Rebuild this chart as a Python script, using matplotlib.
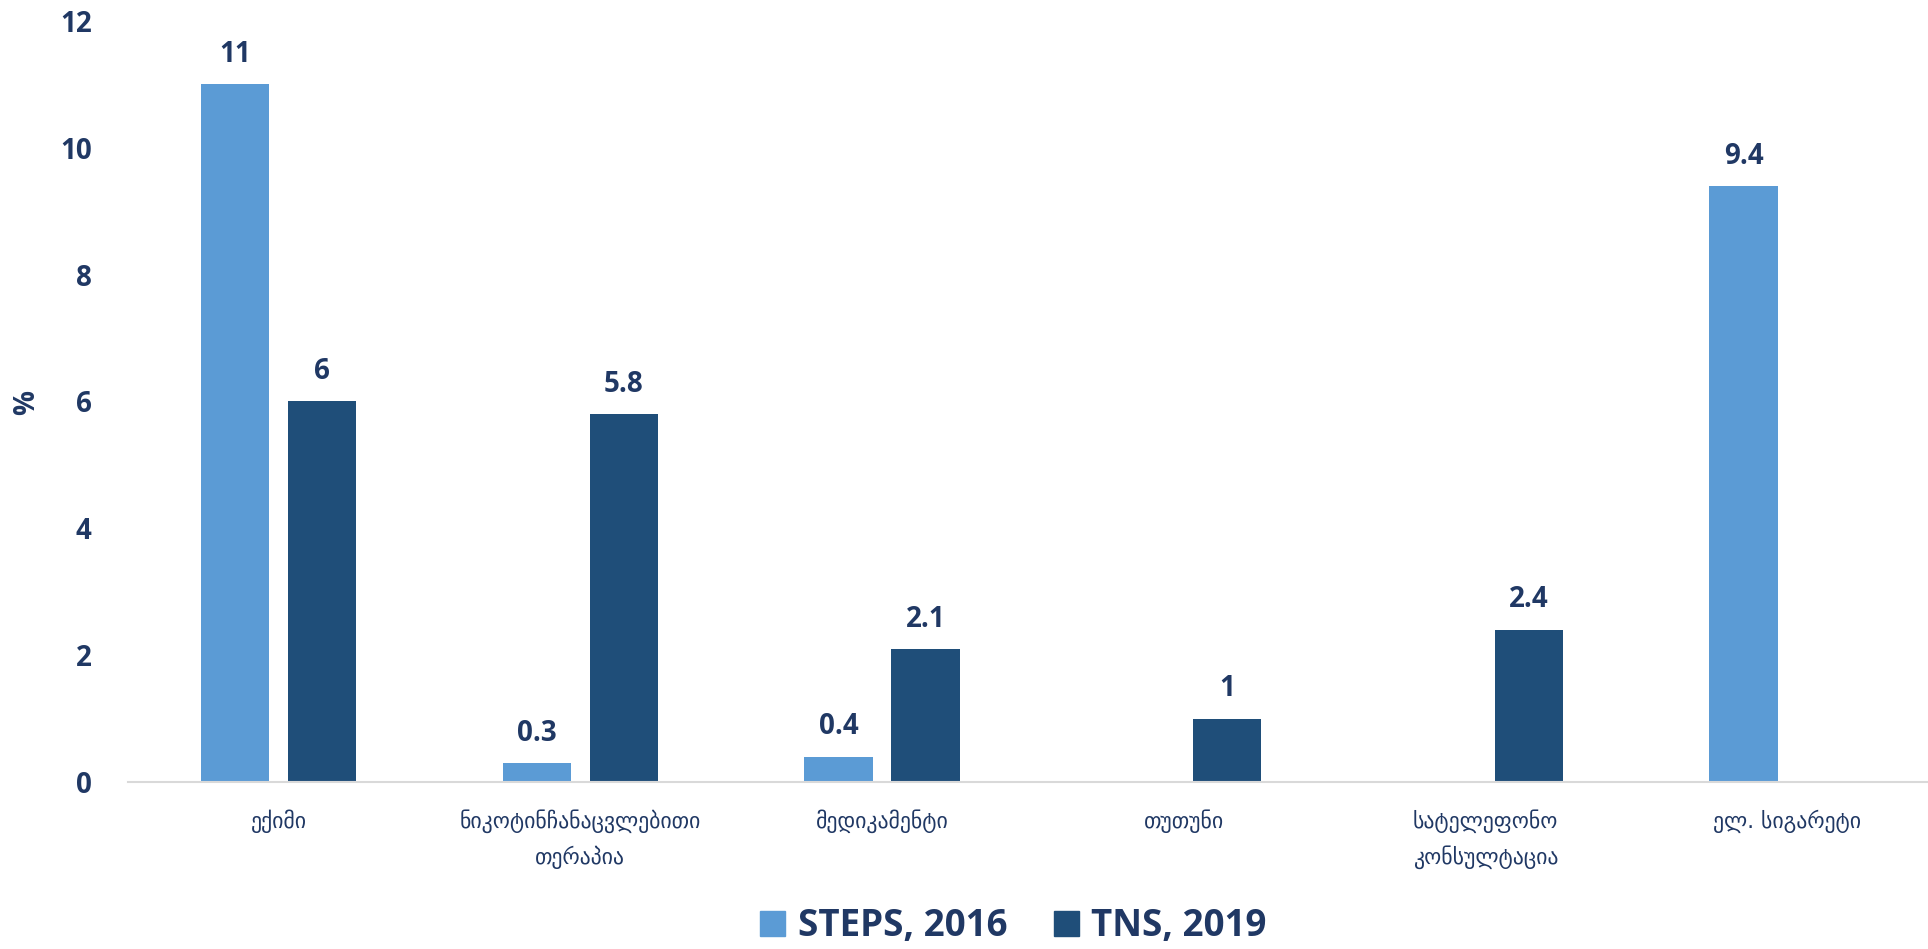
import matplotlib
matplotlib.use("Agg")
import matplotlib.pyplot as plt
from matplotlib.patches import Patch
import numpy as np

categories = ["ექიმი", "ნიკოტინჩანაცვლებითი\nთერაპია", "მედიკამენტი",
              "თუთუნი", "სატელეფონო\nკონსულტაცია", "ელ. სიგარეტი"]
series_names = ["STEPS, 2016", "TNS, 2019"]
steps_2016 = [11, 0.3, 0.4, np.nan, np.nan, 9.4]
tns_2019 = [6, 5.8, 2.1, 1, 2.4, np.nan]
y_ticks = [0, 2, 4, 6, 8, 10, 12]

light = "#5B9BD5"
dark = "#1F4E79"
txt = "#203864"
bold_font = ["Open Sans", "DejaVu Sans"]

fig = plt.figure(figsize=(19.28, 9.49), dpi=100)
ax = fig.add_axes([0.0663, 0.176, 0.9388, 0.802])

x = np.arange(len(categories))
w = 0.226
off = 0.144
b1 = ax.bar(x - off, steps_2016, w, color=light)
b2 = ax.bar(x + off, tns_2019, w, color=dark)

for bars, vals in ((b1, steps_2016), (b2, tns_2019)):
    for rect, v in zip(bars, vals):
        if np.isnan(v):
            continue
        ax.annotate(f"{v:g}", (rect.get_x() + rect.get_width() / 2, v),
                    xytext=(0, 11), textcoords="offset points",
                    ha="center", va="bottom", fontsize=20, fontweight="bold",
                    color=txt, family=bold_font)

ax.set_xlim(-0.5, len(categories) - 0.5)
ax.set_ylim(0, 12)
ax.set_yticks(y_ticks)
ax.set_yticklabels([str(t) for t in y_ticks], fontsize=20, fontweight="bold",
                   color=txt, family=bold_font)
ax.set_xticks(x)
ax.set_xticklabels(categories, fontsize=15.7, color=txt, family=["DejaVu Sans"],
                   linespacing=1.65)
ax.tick_params(axis="y", length=0, pad=26)
ax.tick_params(axis="x", length=0, pad=20)
for s in ("top", "right", "left"):
    ax.spines[s].set_visible(False)
ax.spines["bottom"].set_color("#D9D9D9")
ax.spines["bottom"].set_linewidth(1.5)

fig.text(0.014, 0.576, "%", rotation=90, ha="center", va="center",
         fontsize=20, fontweight="bold", color=txt, family=bold_font)

handles = [Patch(color=light), Patch(color=dark)]
fig.legend(handles, series_names, loc="center", bbox_to_anchor=(0.5257, 0.024),
           ncol=2, frameon=False, handlelength=0.68, handleheight=0.68,
           handletextpad=0.33, columnspacing=1.28,
           prop={"family": bold_font, "weight": "bold", "size": 26.5},
           labelcolor=txt)

fig.savefig("out.png", dpi=100)
